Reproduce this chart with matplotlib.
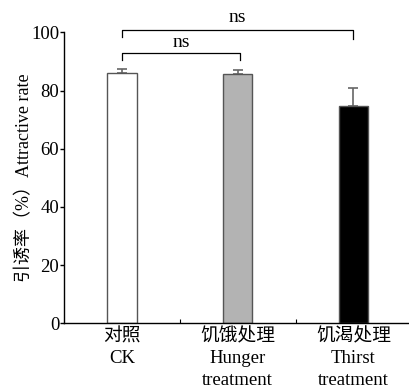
import numpy as np
import matplotlib.pyplot as plt

plt.rcParams['font.family'] = ['Liberation Serif', 'Noto Sans CJK SC']

groups = ['对照\nCK', '饥饿处理\nHunger\ntreatment', '饥渴处理\nThirst\ntreatment']
rates = [86.2, 85.6, 74.6]
errs = [1.1, 1.4, 6.2]
fills = ['white', '#b3b3b3', 'black']
yticks = [0, 20, 40, 60, 80, 100]

fig = plt.figure(figsize=(4.09, 3.91), dpi=100)
ax = fig.add_axes([0.1565, 0.173, 0.8435, 0.744])

x = np.arange(len(rates))
ax.bar(x, rates, width=0.255, color=fills, edgecolor='#555555', linewidth=1.0, zorder=2)
ax.errorbar(x, rates, yerr=[np.zeros(len(errs)), errs], fmt='none',
            ecolor='#666666', elinewidth=1.2, capsize=3.6, capthick=1.2, zorder=1)

ax.set_xlim(-0.5, 2.48)
ax.set_ylim(0, 100)
ax.set_yticks(yticks)
ax.set_xticks(x)
ax.set_xticklabels(groups, fontsize=13.5, linespacing=1.36)
ax.set_xticks([0.5, 1.5], minor=True)
ax.tick_params(axis='x', which='major', length=0, pad=3.5)
ax.tick_params(axis='x', which='minor', direction='in', length=3, width=0.8)
ax.tick_params(axis='y', direction='out', length=3, width=1, labelsize=13.5, pad=0.5)
for s in ['top', 'right']:
    ax.spines[s].set_visible(False)
for s in ['left', 'bottom']:
    ax.spines[s].set_linewidth(1.0)

ax.set_ylabel('引诱率（%）Attractive rate', fontsize=13)
ax.yaxis.set_label_coords(-0.088, 0.5)

# significance brackets
def bracket(x0, x1, y, drop0, drop1, label, ty):
    ax.plot([x0, x0, x1, x1], [y - drop0, y, y, y - drop1], color='black',
            lw=0.9, clip_on=False)
    ax.text((x0 + x1) / 2, ty, label, ha='center', va='center', fontsize=14)

bracket(0, 1.02, 93.0, 2.4, 2.4, 'ns', 96.6)
bracket(0, 2.0, 100.9, 2.6, 3.0, 'ns', 105.0)

fig.savefig('out.png', dpi=100)
